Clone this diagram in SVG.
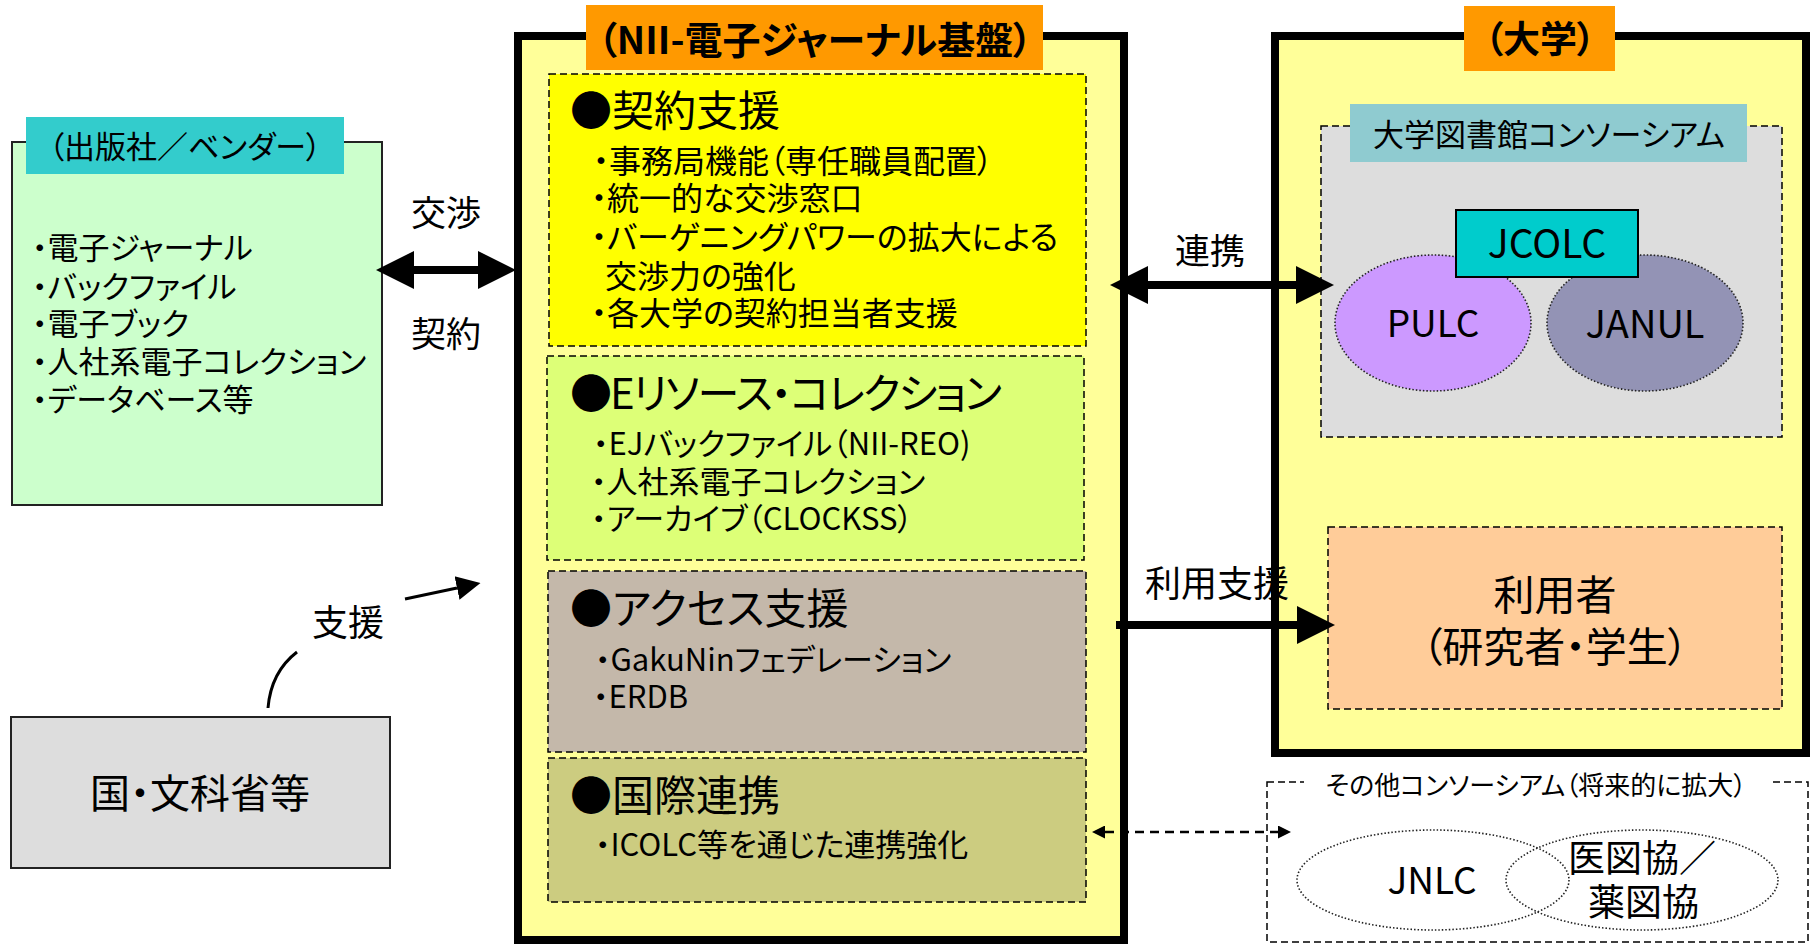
<svg xmlns="http://www.w3.org/2000/svg" width="1811" height="945" viewBox="0 0 1811 945">
<style>
text{font-family:"Noto Sans CJK JP","Noto Sans",sans-serif;fill:#000;font-feature-settings:"palt";}
.c{text-anchor:middle;dominant-baseline:central;}
.l{dominant-baseline:central;}
.b{font-weight:bold;}
.big{stroke:#000;stroke-width:8;fill:none;}
.sec{stroke:#000;stroke-width:1.5;stroke-dasharray:7 4;}
.dot{stroke:#222;stroke-width:1.6;stroke-dasharray:1.5 2;}
.frame{stroke:#000;stroke-width:8;}
.thin{stroke:#222;stroke-width:2;}
.t42{font-size:42px;}
.t31{font-size:31px;}
.t32{font-size:32px;}
</style>
<defs>
<marker id="bigHead" viewBox="0 0 10 10" refX="0" refY="5" markerWidth="4.75" markerHeight="4.75" orient="auto-start-reverse" markerUnits="strokeWidth"><path d="M0,0 L10,5 L0,10 z" fill="#000" stroke="none"/></marker>
<marker id="smallHead" viewBox="0 0 10 10" refX="0" refY="5" markerWidth="15" markerHeight="13" orient="auto-start-reverse" markerUnits="userSpaceOnUse"><path d="M0,0 L10,5 L0,10 z" fill="#000" stroke="none"/></marker>
<marker id="midHead" viewBox="0 0 10 10" refX="0" refY="5" markerWidth="24" markerHeight="26" orient="auto" markerUnits="userSpaceOnUse"><path d="M0,0 L10,5 L0,10 z" fill="#000" stroke="none"/></marker>
</defs>

<g id="publisher">
<rect x="12" y="142" width="370" height="363" fill="#CCFFCC" class="thin"/>
<rect x="26" y="117" width="318" height="57" fill="#33CCCC"/>
<text class="c" x="185" y="144" font-size="31">（出版社／ベンダー）</text>
<text class="l t31" x="32" y="245">・電子ジャーナル</text>
<text class="l t31" x="32" y="284">・バックファイル</text>
<text class="l t31" x="32" y="321">・電子ブック</text>
<text class="l t31" x="32" y="359">・人社系電子コレクション</text>
<text class="l t31" x="32" y="397">・データベース等</text>
</g>

<g id="government">
<rect x="11" y="717" width="379" height="151" fill="#DDDDDD" class="thin"/>
<text class="c" x="200" y="791" font-size="40">国・文科省等</text>
</g>

<g id="nii">
<rect x="518" y="36" width="606" height="904" fill="#FFFF99" class="frame"/>
<rect x="586" y="5" width="457" height="65" fill="#FF9900"/>
<text class="c b" x="815" y="37" font-size="38">（NII-電子ジャーナル基盤）</text>
</g>

<g id="sec-contract">
<rect x="549" y="74" width="537" height="272" fill="#FFFF00" class="sec"/>
<text class="l t42" x="570" y="107">●契約支援</text>
<text class="l t32" x="593" y="159">・事務局機能（専任職員配置）</text>
<text class="l t32" x="591" y="196">・統一的な交渉窓口</text>
<text class="l t32" x="591" y="235">・バーゲニングパワーの拡大による</text>
<text class="l t32" x="605" y="274">交渉力の強化</text>
<text class="l t32" x="591" y="311">・各大学の契約担当者支援</text>
</g>

<g id="sec-eresource">
<rect x="547" y="356" width="537" height="204" fill="#DDFF77" class="sec"/>
<text class="l t42" x="570" y="390" letter-spacing="-2">●Eリソース・コレクション</text>
<text class="l t31" x="593" y="441">・EJバックファイル（NII-REO)</text>
<text class="l t31" x="591" y="479">・人社系電子コレクション</text>
<text class="l t31" x="591" y="516">・アーカイブ（CLOCKSS）</text>
</g>

<g id="sec-access">
<rect x="548" y="571" width="538" height="181" fill="#C4B8AA" class="sec"/>
<text class="l t42" x="570" y="605">●アクセス支援</text>
<text class="l t31" x="595" y="657">・GakuNinフェデレーション</text>
<text class="l t31" x="593" y="694">・ERDB</text>
</g>

<g id="sec-international">
<rect x="548" y="758" width="538" height="144" fill="#CCCC80" class="sec"/>
<text class="l t42" x="570" y="792">●国際連携</text>
<text class="l t31" x="595" y="842">・ICOLC等を通じた連携強化</text>
</g>

<g id="university">
<rect x="1275" y="36" width="531" height="717" fill="#FFFF99" class="frame"/>
<rect x="1464" y="6" width="151" height="65" fill="#FF9900"/>
<text class="c b" x="1540" y="37" font-size="37">（大学）</text>
</g>

<g id="consortium">
<rect x="1321" y="126" width="461" height="311" fill="#DDDDDD" class="sec"/>
<rect x="1350" y="104" width="397" height="58" fill="#8FCBD0"/>
<text class="c" x="1549" y="132" font-size="31">大学図書館コンソーシアム</text>
</g>

<g id="pulc">
<ellipse cx="1433" cy="323" rx="98" ry="68" fill="#CC99FF" class="dot"/>
<text class="c" x="1433" y="321" font-size="37">PULC</text>
</g>

<g id="janul">
<ellipse cx="1645" cy="323" rx="98" ry="68" fill="#9393B5" class="dot"/>
<text class="c" x="1645" y="321" font-size="38">JANUL</text>
</g>

<g id="jcolc">
<rect x="1456" y="210" width="182" height="67" fill="#00CCCC" stroke="#000" stroke-width="2"/>
<text class="c" x="1547" y="241" font-size="39">JCOLC</text>
</g>

<g id="users">
<rect x="1328" y="527" width="454" height="182" fill="#FFCC99" class="sec"/>
<text class="c" x="1555" y="592" font-size="41">利用者</text>
<text class="c" x="1555" y="644" font-size="41">（研究者・学生）</text>
</g>

<g id="other-consortia">
<rect x="1267" y="782" width="541" height="160" fill="#FFFFFF" class="sec"/>
<rect x="1304" y="768" width="468" height="30" fill="#FFFFFF"/>
<text class="c" x="1536" y="783" font-size="26">その他コンソーシアム（将来的に拡大）</text>
</g>

<g id="jnlc">
<ellipse cx="1433" cy="880" rx="136" ry="50" fill="none" class="dot"/>
<text class="c" x="1432" y="878" font-size="37">JNLC</text>
</g>

<g id="medpharm">
<ellipse cx="1642" cy="880" rx="136" ry="50" fill="none" class="dot"/>
<text class="l" x="1568" y="856" font-size="37">医図協／</text>
<text class="l" x="1588" y="900" font-size="37">薬図協</text>
</g>

<g id="connectors">
<line x1="414" y1="270" x2="478" y2="270" class="big" marker-start="url(#bigHead)" marker-end="url(#bigHead)"/>
<text class="c" x="446" y="210" font-size="35">交渉</text>
<text class="c" x="446" y="331" font-size="35">契約</text>

<line x1="1148" y1="285" x2="1296" y2="285" class="big" marker-start="url(#bigHead)" marker-end="url(#bigHead)"/>
<text class="c" x="1210" y="248" font-size="35">連携</text>

<line x1="1116" y1="625" x2="1297" y2="625" class="big" marker-end="url(#bigHead)"/>
<text class="c" x="1217" y="581" font-size="36">利用支援</text>

<line x1="1105" y1="832" x2="1278" y2="832" stroke="#000" stroke-width="2.5" stroke-dasharray="9 6" marker-start="url(#smallHead)" marker-end="url(#smallHead)"/>

<path d="M268,708 Q271,672 297,652" fill="none" stroke="#000" stroke-width="3"/>
<line x1="405" y1="599" x2="457" y2="588" stroke="#000" stroke-width="3" marker-end="url(#midHead)"/>
<text class="c" x="348" y="620" font-size="36">支援</text>
</g>
</svg>
